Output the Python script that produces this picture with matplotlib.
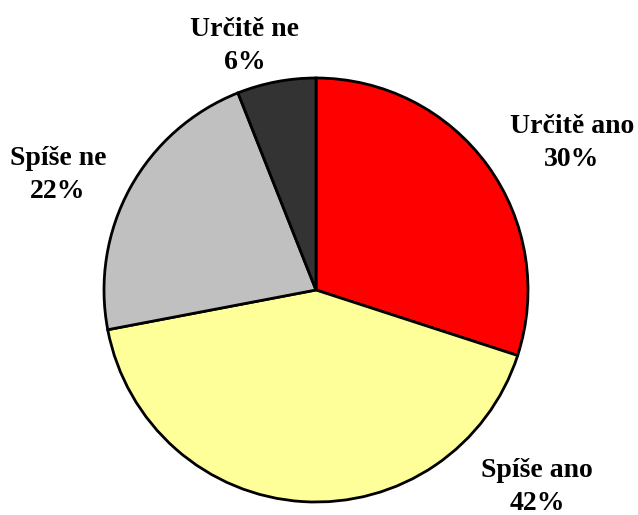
import matplotlib.pyplot as plt

labels = ["Určitě ano", "Spíše ano", "Spíše ne", "Určitě ne"]
shares = [30, 42, 22, 6]
colors = ["#FF0000", "#FFFF99", "#C0C0C0", "#333333"]

# label anchor positions in pixels (x, y from top)
label_pos = [(572, 143), (537, 487), (58, 175), (245, 46)]

fig = plt.figure(figsize=(6.38, 5.15), dpi=100)
ax = fig.add_axes([0, 0, 1, 1])
ax.set_xlim(0, 638)
ax.set_ylim(0, 515)
ax.set_aspect("equal")
ax.axis("off")

ax.pie(shares, colors=colors, startangle=90, counterclock=False,
       center=(316, 515 - 290), radius=212,
       wedgeprops=dict(edgecolor="black", linewidth=2))
ax.set_xlim(0, 638)
ax.set_ylim(0, 515)

for lab, val, (px, py) in zip(labels, shares, label_pos):
    ax.text(px, 515 - py, f"{lab}\n{val}%", ha="center", va="center",
            fontsize=20, fontweight="bold", family="Liberation Serif",
            linespacing=1.38)

fig.savefig("out.png", dpi=100)
